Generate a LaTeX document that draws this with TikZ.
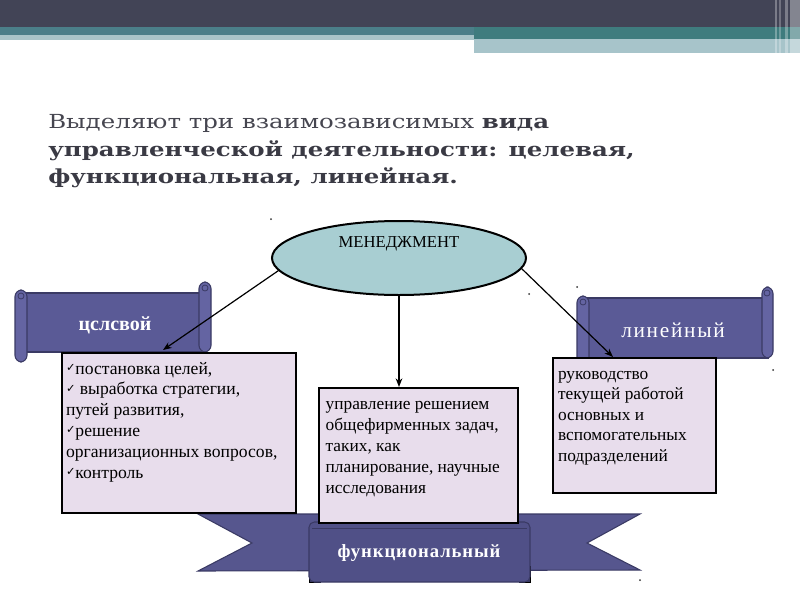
\documentclass[tikz,border=0pt]{standalone}
\usepackage{fontspec}
\setmainfont{Liberation Serif}
\newfontfamily\titlefont{DejaVu Serif}
\newfontfamily\symfont{DejaVu Sans}
\usetikzlibrary{shapes.geometric,arrows.meta}
\definecolor{topdark}{RGB}{66,68,86}
\definecolor{tealA}{RGB}{75,127,137}
\definecolor{tealB}{RGB}{63,124,126}
\definecolor{lighttealA}{RGB}{169,197,201}
\definecolor{lighttealB}{RGB}{167,196,202}
\definecolor{titlegray}{RGB}{70,70,80}
\definecolor{titledark}{RGB}{58,58,68}
\definecolor{ellfill}{RGB}{168,206,210}
\definecolor{scrollfill}{RGB}{90,90,150}
\definecolor{rollfill}{RGB}{100,100,162}
\definecolor{scrolledge}{RGB}{58,58,100}
\definecolor{ribbonfill}{RGB}{86,86,142}
\definecolor{panelfill}{RGB}{80,80,135}
\definecolor{boxfill}{RGB}{232,221,236}
\newcommand\chk{\raisebox{0.3ex}{\symfont\fontsize{8.5}{8.5}\selectfont ✓}}
\newcommand\wide[1]{\scalebox{1.265}[1]{#1}}
\begin{document}
\begin{tikzpicture}[x=0.75pt,y=-0.75pt,
  txtbox/.style={draw=black, line width=1.5pt, fill=boxfill, anchor=north west, inner ysep=0pt},
  conn/.style={-{Stealth[length=6.5pt,width=5pt]}, line width=0.9pt},
  scroll/.style={fill=scrollfill, draw=scrolledge, line width=0.8pt},
  roll/.style={fill=rollfill, draw=scrolledge, line width=0.8pt},
  titleline/.style={anchor=base west, inner sep=0pt, text=titlegray, font=\titlefont\fontsize{14.5}{17}\selectfont},
  titlebold/.style={titleline, text=titledark, font=\titlefont\bfseries\fontsize{14.5}{17}\selectfont},
  bannertext/.style={text=white, inner sep=0pt},
  dot/.style={fill=black!80}
]
\useasboundingbox (0,0) rectangle (800,600);
\fill[white] (0,0) rectangle (800,600);
% top bar
\fill[topdark] (0,0) rectangle (800,27);
\fill[tealA] (0,27) rectangle (474,35);
\fill[lighttealA] (0,35) rectangle (474,40);
\fill[tealB] (474,27) rectangle (800,39);
\fill[lighttealB] (474,39) rectangle (800,53);
\fill[white, opacity=0.3] (775,0) rectangle (777,53);
\fill[white, opacity=0.25] (779,0) rectangle (781,53);
\fill[white, opacity=0.3] (785,0) rectangle (788,53);
\fill[white, opacity=0.35] (790,0) rectangle (800,53);
% title
\node[titleline] (t1) at (48,128) {\wide{Выделяют три взаимозависимых {\bfseries\color{titledark}вида}}};
\node[titlebold] (t2) at (48,156) {\wide{управленческой деятельности: целевая,}};
\node[titlebold] (t3) at (48,183) {\wide{функциональная, линейная.}};
% left scroll
\draw[scroll] (25,293) rectangle (205,352);
\draw[roll, rounded corners=5] (15,290) rectangle (27,362);
\draw[roll, rounded corners=5] (199,282) rectangle (211,352);
\draw[scrolledge, line width=0.6pt] (21,296) circle (3);
\draw[scrolledge, line width=0.6pt] (205,288) circle (3);
\node[bannertext, font=\bfseries\fontsize{15}{15}\selectfont] (lt) at (115,325) {цслсвой};
% right scroll
\draw[scroll] (582,298) rectangle (768,358);
\draw[roll, rounded corners=5] (577,296) rectangle (589,372);
\draw[roll, rounded corners=5] (762,287) rectangle (773,358);
\draw[scrolledge, line width=0.6pt] (583,302) circle (3);
\draw[scrolledge, line width=0.6pt] (767,293) circle (3);
\node[bannertext, font=\fontsize{16}{16}\selectfont\addfontfeature{LetterSpace=8}] (rt) at (673,330) {линейный};
% bottom ribbon
\draw[fill=ribbonfill, draw=scrolledge, line width=0.8pt] (198,514) -- (640,514) -- (587,543) -- (640,570) -- (198,571) -- (252,543) -- cycle;
\draw[fill=scrolledge] (309,566) rectangle (320,582);
\draw[fill=scrolledge] (519,566) rectangle (530,582);
\draw[fill=panelfill, draw=scrolledge, line width=0.8pt, rounded corners=4] (309,522) rectangle (530,582);
\draw[scrolledge, line width=0.6pt] (312,528) -- (527,528);
\node[bannertext, font=\bfseries\fontsize{14}{14}\selectfont\addfontfeature{LetterSpace=5}] (ft) at (419,553) {функциональный};
% ellipse
\node[ellipse, draw=black, line width=1.5pt, fill=ellfill, minimum width=190.5pt, minimum height=55.5pt, inner sep=0pt] (m) at (399,258) {};
\node[inner sep=0pt, font=\fontsize{12.5}{12.5}\selectfont] (mt) at (399,244) {МЕНЕДЖМЕНТ};
% boxes
\node[txtbox, inner xsep=3pt] (lbox) at (61,352) {\parbox[c][120pt][t]{169.5pt}{\fontsize{13.2}{15.6}\selectfont\raggedright\rule{0pt}{15.75pt}\chk постановка целей,\\ \chk\ выработка стратегии,\\ путей развития,\\ \chk решение\\ организационных вопросов,\\ \chk контроль}};
\node[txtbox, inner xsep=5pt] (mbox) at (318,387) {\parbox[c][101.25pt][t]{139.25pt}{\fontsize{13}{15.75}\selectfont\raggedright\rule{0pt}{15.75pt}управление решением\\ общефирменных задач,\\ таких, как\\ планирование, научные\\ исследования}};
\node[txtbox, inner xsep=3.75pt] (rbox) at (552,357) {\parbox[c][101.25pt][t]{114.75pt}{\fontsize{13}{15.4}\selectfont\raggedright\rule{0pt}{15.75pt}руководство\\ текущей работой\\ основных и\\ вспомогательных\\ подразделений}};
% connectors
\draw[conn] (m.186) -- ([xshift=76.5pt,yshift=1.5pt]lbox.north west);
\draw[conn] (m.south) -- (m.south |- mbox.north);
\draw[conn] (m.355) -- ([xshift=45.75pt]rbox.north west);
% dots
\fill[dot] (271,219) circle (1);
\fill[dot] (529,294) circle (1);
\fill[dot] (577,287) circle (1);
\fill[dot] (773,370) circle (1);
\fill[dot] (640,580) circle (1);
\end{tikzpicture}
\end{document}
